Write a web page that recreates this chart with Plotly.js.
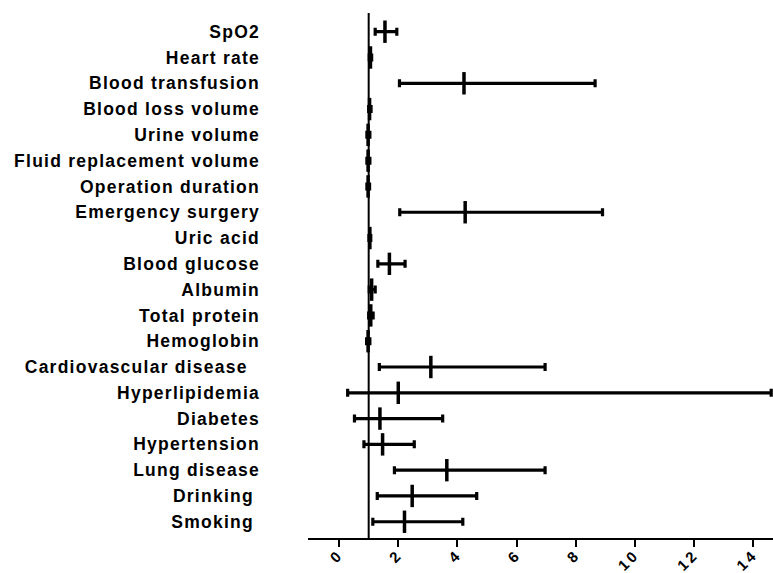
<!DOCTYPE html>
<html>
<head>
<meta charset="utf-8">
<script src="https://cdn.plot.ly/plotly-3.0.1.min.js"></script>
<style>
  html, body { margin: 0; padding: 0; background: #fff; }
  .ytick text { letter-spacing: 1.25px; }
  .xtick text { letter-spacing: 3px; }
</style>
</head>
<body>
<div id="chart" style="width:773px;height:573px;"></div>
<script>
// Factors, top to bottom
const factors = [
  "SpO2", "Heart rate", "Blood transfusion", "Blood loss volume", "Urine volume",
  "Fluid replacement volume", "Operation duration", "Emergency surgery", "Uric acid",
  "Blood glucose", "Albumin", "Total protein", "Hemoglobin",
  "Cardiovascular disease\u00a0\u00a0", "Hyperlipidemia", "Diabetes", "Hypertension",
  "Lung disease", "Drinking\u00a0", "Smoking\u00a0"
];
// Odds ratio point estimates
const oddsRatio = [
  1.55, 1.06, 4.22, 1.03, 0.98,
  0.98, 0.98, 4.26, 1.04,
  1.70, 1.10, 1.07, 0.98,
  3.10, 2.00, 1.38, 1.47,
  3.64, 2.47, 2.21
];
// Lower 95% CI
const ciLower = [
  1.22, 1.02, 2.04, 1.00, 0.94,
  0.94, 0.94, 2.05, 1.01,
  1.31, 1.02, 1.00, 0.93,
  1.36, 0.29, 0.52, 0.84,
  1.87, 1.29, 1.14
];
// Upper 95% CI
const ciUpper = [
  1.95, 1.10, 8.65, 1.08, 1.04,
  1.04, 1.03, 8.90, 1.07,
  2.23, 1.22, 1.15, 1.04,
  6.96, 14.60, 3.50, 2.54,
  6.96, 4.65, 4.18
];
const xTicks = [0, 2, 4, 6, 8, 10, 12, 14];
const refValue = 1;

const plus = oddsRatio.map((v, i) => ciUpper[i] - v);
const minus = oddsRatio.map((v, i) => v - ciLower[i]);

const trace = {
  type: 'scatter',
  mode: 'markers',
  x: oddsRatio,
  y: factors,
  marker: { symbol: 'line-ns', size: 16, color: '#000', line: { width: 3.5, color: '#000' } },
  error_x: {
    type: 'data', symmetric: false, array: plus, arrayminus: minus,
    color: '#000', thickness: 3.2, width: 4
  },
  hoverinfo: 'x+y',
  showlegend: false,
  cliponaxis: false
};

const layout = {
  width: 773, height: 573,
  margin: { l: 308, r: 0, t: 13, b: 35 },
  paper_bgcolor: '#fff', plot_bgcolor: '#fff',
  font: { family: 'Liberation Sans, Arial, sans-serif', color: '#000' },
  xaxis: {
    range: [-1.05, 14.66],
    tickvals: xTicks,
    ticktext: xTicks.map(String),
    ticks: 'outside', ticklen: 7, tickwidth: 2, tickcolor: '#000',
    showline: true, linewidth: 2, linecolor: '#000',
    showgrid: false, zeroline: false,
    tickangle: -45,
    ticklabelstandoff: -7,
    tickfont: { family: 'Liberation Sans, Arial, sans-serif', size: 15, weight: 'bold', color: '#000' }
  },
  yaxis: {
    type: 'category',
    categoryorder: 'array', categoryarray: factors,
    range: [19.63, -0.725],
    showline: false, showgrid: false, zeroline: false,
    ticks: '',
    ticklabelstandoff: 47,
    tickfont: { family: 'Liberation Sans, Arial, sans-serif', size: 17.5, weight: 'bold', color: '#000' }
  },
  shapes: [{
    type: 'line', xref: 'x', yref: 'paper',
    x0: refValue, x1: refValue, y0: 0, y1: 1,
    line: { color: '#000', width: 2 }
  }]
};

Plotly.newPlot('chart', [trace], layout, { displayModeBar: false, staticPlot: true });
</script>
</body>
</html>
